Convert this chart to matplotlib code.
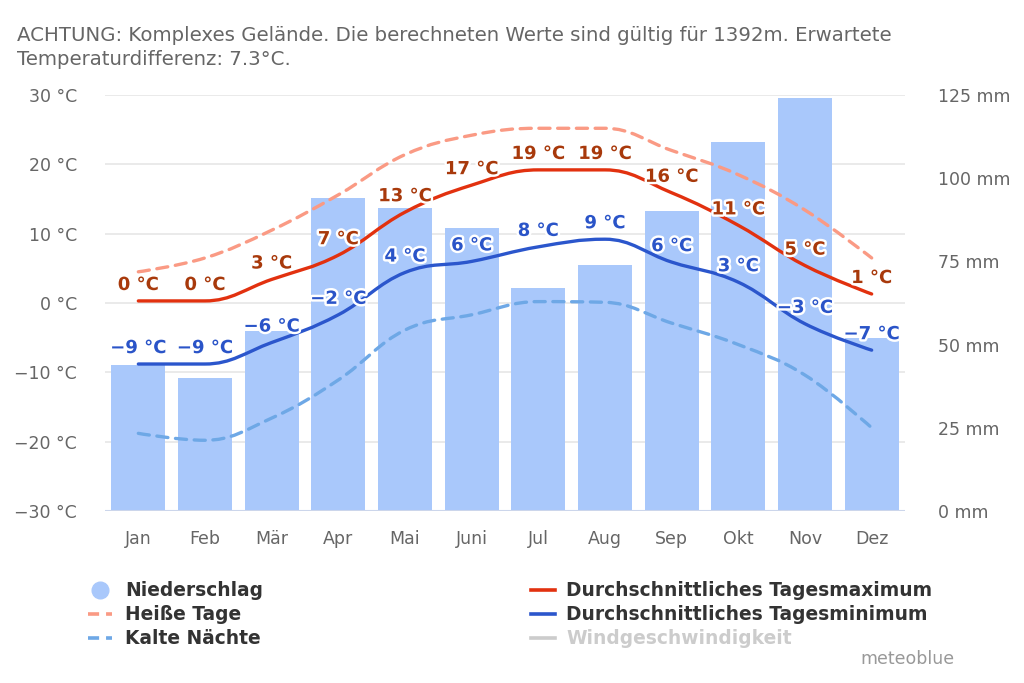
import numpy as np
import matplotlib
matplotlib.use("Agg")
import matplotlib.pyplot as plt
from matplotlib.path import Path
from matplotlib.patches import PathPatch
from matplotlib.lines import Line2D
import matplotlib.patheffects as pe

plt.rcParams["font.family"] = ["DejaVu Sans"]
plt.rcParams["lines.scale_dashes"] = False

months = ["Jan", "Feb", "Mär", "Apr", "Mai", "Juni", "Jul", "Aug", "Sep", "Okt", "Nov", "Dez"]
precip_mm = [44, 40, 54, 94, 91, 85, 67, 74, 90, 111, 124, 52]
t_max = [0.3, 0.3, 3.4, 6.9, 13.1, 17.0, 19.2, 19.2, 15.9, 11.2, 5.4, 1.3]
t_min = [-8.8, -8.8, -5.7, -1.7, 4.4, 6.0, 8.1, 9.2, 5.9, 3.0, -3.0, -6.8]
hot_days = [4.5, 6.5, 10.5, 15.6, 21.4, 24.2, 25.2, 25.2, 22.0, 18.5, 13.4, 6.5]
cold_nights = [-18.8, -19.8, -16.6, -11.1, -3.9, -1.7, 0.2, 0.1, -2.9, -6.0, -10.4, -18.0]

temp_ticks = [-30, -20, -10, 0, 10, 20, 30]
mm_ticks = [0, 25, 50, 75, 100, 125]

C_BAR = "#a9c8fb"
C_MAX = "#e2310f"
C_MIN = "#2b56cc"
C_HOT = "#fa9a84"
C_COLD = "#6ea8e6"
C_MAX_TXT = "#a8390b"
C_MIN_TXT = "#2a54c8"
C_TICK = "#666666"

W, H = 1024, 683


def px(x, y):
    return x / W, 1 - y / H


def spline_path(xs, ys, smoothing=1.5):
    # highcharts-style spline control points, in data coordinates
    n = len(xs)
    denom = smoothing + 1
    lc = [None] * n
    rc = [None] * n
    for i in range(1, n - 1):
        x, y = xs[i], ys[i]
        lx, ly, nx, ny = xs[i - 1], ys[i - 1], xs[i + 1], ys[i + 1]
        lcx = (smoothing * x + lx) / denom
        lcy = (smoothing * y + ly) / denom
        rcx = (smoothing * x + nx) / denom
        rcy = (smoothing * y + ny) / denom
        corr = (rcy - lcy) * (rcx - x) / (rcx - lcx) + y - rcy
        lcy += corr
        rcy += corr
        if lcy > ly and lcy > y:
            lcy = max(ly, y)
            rcy = 2 * y - lcy
        elif lcy < ly and lcy < y:
            lcy = min(ly, y)
            rcy = 2 * y - lcy
        if rcy > ny and rcy > y:
            rcy = max(ny, y)
            lcy = 2 * y - rcy
        elif rcy < ny and rcy < y:
            rcy = min(ny, y)
            lcy = 2 * y - rcy
        lc[i] = (lcx, lcy)
        rc[i] = (rcx, rcy)
    verts = [(xs[0], ys[0])]
    codes = [Path.MOVETO]
    for i in range(1, n):
        c1 = rc[i - 1] if rc[i - 1] is not None else (xs[i - 1], ys[i - 1])
        c2 = lc[i] if lc[i] is not None else (xs[i], ys[i])
        verts += [c1, c2, (xs[i], ys[i])]
        codes += [Path.CURVE4] * 3
    return Path(verts, codes)


fig = plt.figure(figsize=(W / 100, H / 100), dpi=100)
pos = [105 / W, (H - 511) / H, 800 / W, 416 / H]

# temperature axis: grid + left labels
ax = fig.add_axes(pos)
ax.set_xlim(-0.5, len(months) - 0.5)
ax.set_ylim(-30, 30)
ax.set_yticks(temp_ticks)
ax.set_yticklabels([f"{t} °C".replace("-", "\u2212") for t in temp_ticks])
ax.set_xticks(range(len(months)))
ax.set_xticklabels(months)
ax.tick_params(axis="y", length=0, pad=20, labelsize=12.5, labelcolor=C_TICK)
ax.tick_params(axis="x", length=0, pad=14, labelsize=12.5, labelcolor=C_TICK)
ax.grid(axis="y", color="#e6e6e6", lw=1.2)
for s in ax.spines.values():
    s.set_visible(False)

# precipitation bars on right axis
axp = ax.twinx()
axp.set_ylim(0, 125)
axp.set_yticks(mm_ticks)
axp.set_yticklabels([f"{m} mm" for m in mm_ticks])
axp.tick_params(axis="y", length=0, pad=24, labelsize=12.5, labelcolor=C_TICK)
axp.bar(range(len(months)), precip_mm, width=0.81, color=C_BAR, zorder=2)
for s in axp.spines.values():
    s.set_visible(False)
axp.axhline(0, color="#ccd6eb", lw=1.5, zorder=3)

# lines on top
axl = fig.add_axes(pos, sharex=ax, sharey=ax)
axl.set_axis_off()
xs = np.arange(len(months))

series = [
    (hot_days, C_HOT, (8, 5.5)),
    (cold_nights, C_COLD, (8, 5.5)),
    (t_max, C_MAX, None),
    (t_min, C_MIN, None),
]
for vals, col, dash in series:
    patch = PathPatch(spline_path(xs, vals), fill=False, edgecolor=col, lw=2.4,
                      capstyle="round", joinstyle="round")
    if dash:
        patch.set_linestyle((0, dash))
    axl.add_patch(patch)

halo = [pe.withStroke(linewidth=3.5, foreground="white")]
for vals, col in [(t_max, C_MAX_TXT), (t_min, C_MIN_TXT)]:
    for x, v in zip(xs, vals):
        lab = f"{int(round(v))} °C".replace("-", "\u2212")
        axl.annotate(lab, (x, v), xytext=(0, 5), textcoords="offset points",
                     ha="center", va="bottom", fontsize=13, fontweight="bold",
                     color=col, path_effects=halo)

# title
fig.text(*px(17, 26), "ACHTUNG: Komplexes Gelände. Die berechneten Werte sind gültig für 1392m. Erwartete\n"
         "Temperaturdifferenz: 7.3°C.", ha="left", va="top", fontsize=14.2, color="#666666",
         linespacing=1.35)

# legend, drawn by hand
leg_items = [
    (100, 590, 125, "Niederschlag", "circle", C_BAR, "#333333"),
    (100, 614, 125, "Heiße Tage", "dash", C_HOT, "#333333"),
    (100, 638, 125, "Kalte Nächte", "dash", C_COLD, "#333333"),
    (543, 590, 566, "Durchschnittliches Tagesmaximum", "line", C_MAX, "#333333"),
    (543, 614, 566, "Durchschnittliches Tagesminimum", "line", C_MIN, "#333333"),
    (543, 638, 566, "Windgeschwindigkeit", "line", "#cccccc", "#cccccc"),
]
for mx, my, tx, label, kind, col, tcol in leg_items:
    fx, fy = px(mx, my)
    if kind == "circle":
        fig.add_artist(Line2D([fx], [fy], marker="o", markersize=12, color=col, lw=0,
                              transform=fig.transFigure))
    else:
        x0, _ = px(mx - 12, my)
        x1, _ = px(mx + 12, my)
        ln = Line2D([x0, x1], [fy, fy], color=col, lw=2.6, transform=fig.transFigure)
        if kind == "dash":
            ln.set_dashes((8, 5))
        fig.add_artist(ln)
    fig.text(*px(tx, my), label, ha="left", va="center", fontsize=13.4,
             fontweight="bold", color=tcol)

fig.text(*px(955, 659), "meteoblue", ha="right", va="center", fontsize=12.5, color="#999999")

fig.savefig("out.png", dpi=100)
